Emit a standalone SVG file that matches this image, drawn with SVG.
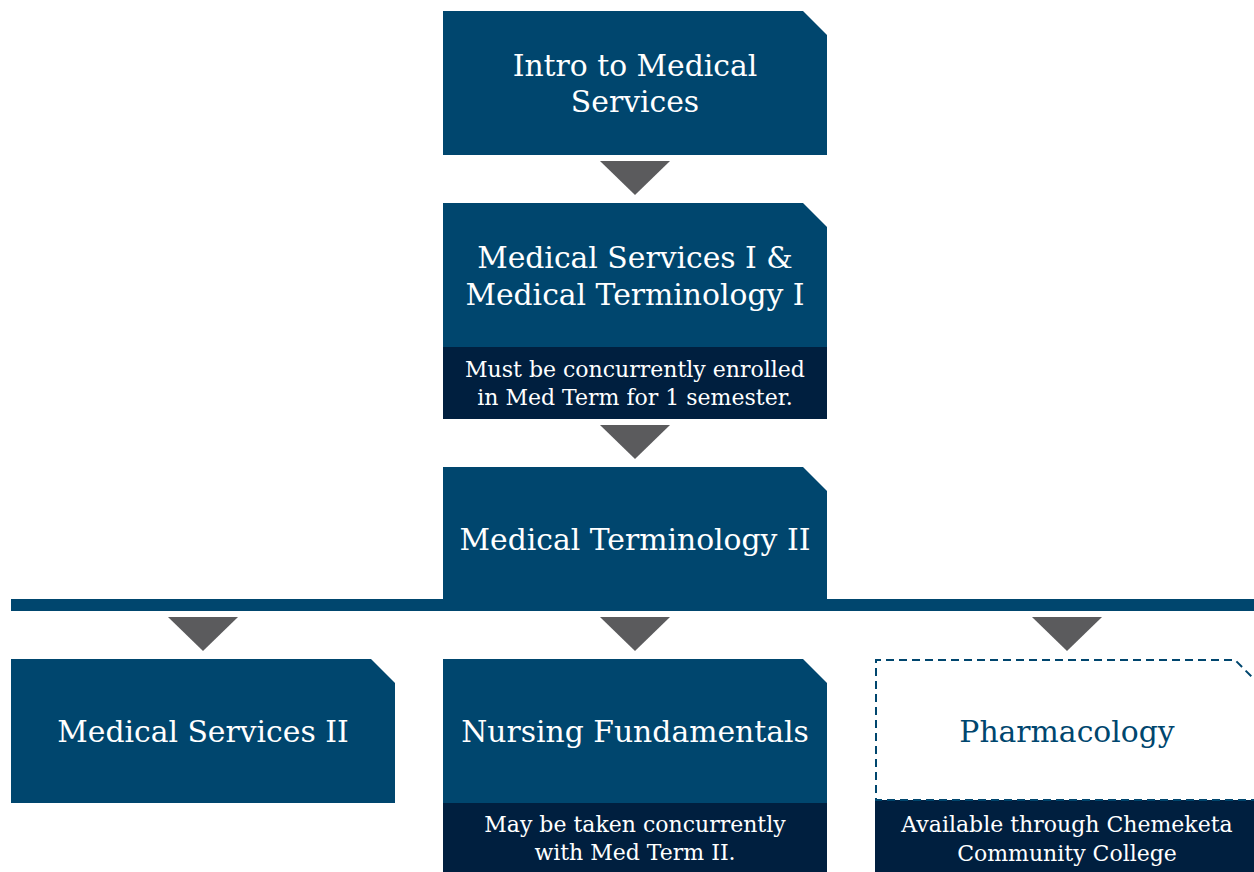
<svg xmlns="http://www.w3.org/2000/svg" width="1254" height="872" viewBox="0 0 1254 872">
<style>
.main{fill:#00466e}
.sub{fill:#001f3f}
.arr{fill:#5b5b5d}
.t{font-family:"DejaVu Serif","Liberation Serif",serif;font-size:29.8px;fill:#fff;text-anchor:middle}
.s{font-family:"DejaVu Serif","Liberation Serif",serif;font-size:22px;fill:#fff;text-anchor:middle}
.tp{fill:#00466e}
</style>
<rect width="1254" height="872" fill="#fff"/>
<g id="connectors">
<rect x="11" y="599" width="1243" height="12" class="main"/>
<polygon class="arr" points="600,161 670,161 635,195"/>
<polygon class="arr" points="600,425 670,425 635,459"/>
<polygon class="arr" points="168,617 238,617 203,651"/>
<polygon class="arr" points="600,617 670,617 635,651"/>
<polygon class="arr" points="1032,617 1102,617 1067,651"/>
</g>
<g id="intro">
<polygon class="main" points="443,11 803,11 827,35 827,155 443,155"/>
<text class="t" x="635" y="76">Intro to Medical</text>
<text class="t" x="635" y="112">Services</text>
</g>
<g id="medserv1">
<polygon class="main" points="443,203 803,203 827,227 827,347 443,347"/>
<rect class="sub" x="443" y="347" width="384" height="72"/>
<text class="t" x="635" y="268">Medical Services I &amp;</text>
<text class="t" x="635" y="305">Medical Terminology I</text>
<text class="s" x="635" y="377">Must be concurrently enrolled</text>
<text class="s" x="635" y="405">in Med Term for 1 semester.</text>
</g>
<g id="medterm2">
<polygon class="main" points="443,467 803,467 827,491 827,605 443,605"/>
<text class="t" x="635" y="550">Medical Terminology II</text>
</g>
<g id="medserv2">
<polygon class="main" points="11,659 371,659 395,683 395,803 11,803"/>
<text class="t" x="203" y="742">Medical Services II</text>
</g>
<g id="nursing">
<polygon class="main" points="443,659 803,659 827,683 827,803 443,803"/>
<rect class="sub" x="443" y="803" width="384" height="69"/>
<text class="t" x="635" y="742">Nursing Fundamentals</text>
<text class="s" x="635" y="832">May be taken concurrently</text>
<text class="s" x="635" y="860">with Med Term II.</text>
</g>
<g id="pharm">
<rect class="sub" x="875" y="800" width="384" height="72"/>
<polyline points="1259,800 876,800 876,660 1235,660 1259,684" fill="none" stroke="#00466e" stroke-width="2" stroke-dasharray="8,5"/>
<text class="t tp" x="1067" y="742">Pharmacology</text>
<text class="s" x="1067" y="832">Available through Chemeketa</text>
<text class="s" x="1067" y="861">Community College</text>
</g>
</svg>
